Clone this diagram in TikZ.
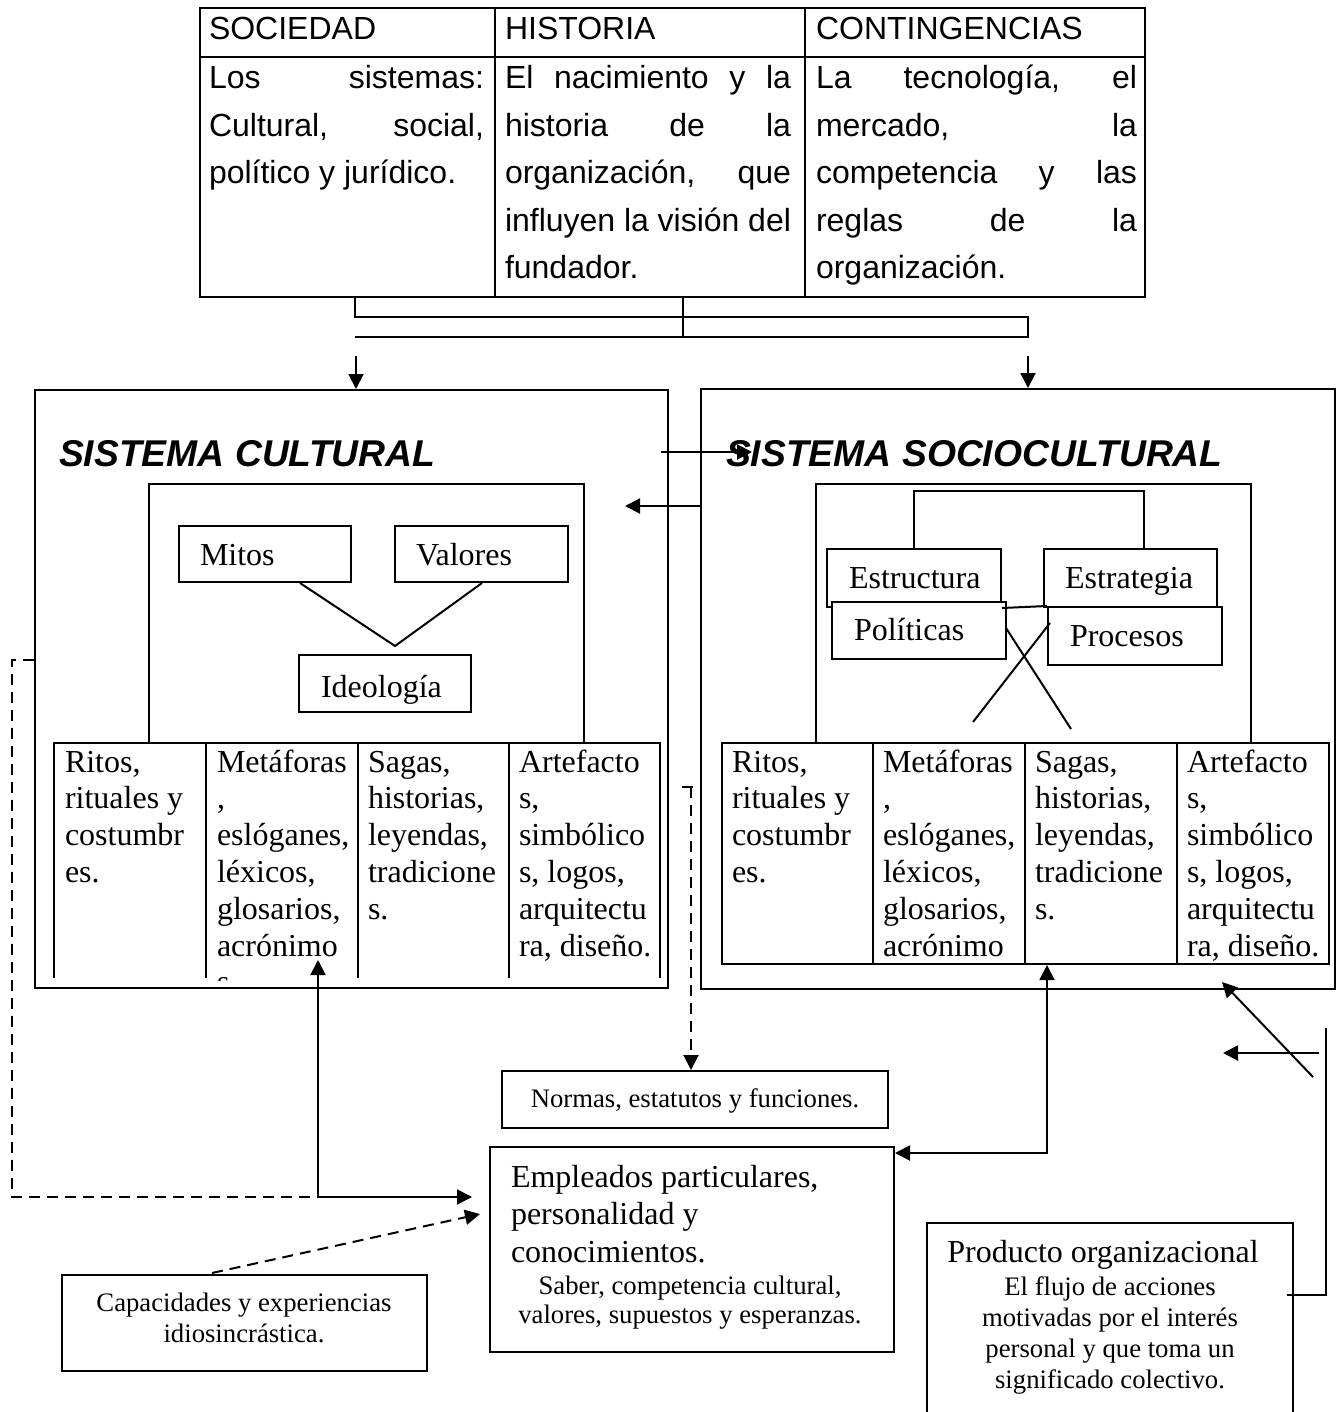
\documentclass[tikz,border=0pt]{standalone}
\usepackage{fontspec}
\setmainfont{Liberation Serif}
\newfontfamily\arialf{Liberation Sans}
\usetikzlibrary{arrows.meta}
\newcommand\fA{\arialf\fontsize{32}{36.8}\selectfont}
\newcommand\fT{\fontsize{32}{36.8}\selectfont}
\newcommand\fS{\fontsize{26.7}{31}\selectfont}
\newcommand\fH{\arialf\bfseries\itshape\fontsize{37.3}{43}\selectfont}
\newcommand\ctrline[1]{\hbox to 0pt{\hss #1\hss}}
\begin{document}
\begin{tikzpicture}[x=1pt,y=-1pt, line width=2pt,
  tip/.style={-{Triangle[length=15pt,width=15pt]}},
  dtip/.style={{Triangle[length=15pt,width=15pt]}-{Triangle[length=15pt,width=15pt]}},
  box/.style={draw, line width=2pt, inner sep=0pt, fill=white},
  txt/.style={inner sep=0pt, anchor=base west},
  ctxt/.style={inner sep=0pt, anchor=base},
  dsh/.style={dash pattern=on 11pt off 7pt},
]
\fill[white] (0,0) rectangle (1338,1412);
\useasboundingbox (0,0) rectangle (1338,1412);

% ---------- top table ----------
\node[box, minimum width=945pt, minimum height=289pt] (toptab) at (672.5,152.5) {};
\draw (200,57) -- (1145,57);
\draw (495,8) -- (495,297);
\draw (805,8) -- (805,297);
\node[txt] (h1) at (208,40) {\fA SOCIEDAD};
\node[txt] (h2) at (504,40) {\fA HISTORIA};
\node[txt] (h3) at (815,40) {\fA CONTINGENCIAS};
\node[txt] (b1) at (208,89) {\fA\vtop{\baselineskip=47.4pt
  \hbox to 275pt{Los\hfill sistemas:}
  \hbox to 275pt{Cultural,\hfill social,}
  \hbox{político y jurídico.}}};
\node[txt] (b2) at (504,89) {\fA\vtop{\baselineskip=47.4pt
  \hbox to 286pt{El\hfill nacimiento\hfill y\hfill la}
  \hbox to 286pt{historia\hfill de\hfill la}
  \hbox to 286pt{organización,\hfill que}
  \hbox to 286pt{influyen\hfill la\hfill visión\hfill del}
  \hbox{fundador.}}};
\node[txt] (b3) at (815,89) {\fA\vtop{\baselineskip=47.4pt
  \hbox to 321pt{La\hfill tecnología,\hfill el}
  \hbox to 321pt{mercado,\hfill la}
  \hbox to 321pt{competencia\hfill y\hfill las}
  \hbox to 321pt{reglas\hfill de\hfill la}
  \hbox{organización.}}};

% bracket under the table
\coordinate (brL) at (355,297);
\coordinate (brM) at (683,297);
\draw (brL) -- (355,317) -- (1028,317) -- (1028,337) -- (355,337);
\draw (brM) -- (683,337);

% ---------- system boxes ----------
\node[box, minimum width=633pt, minimum height=598pt] (leftsys) at (351.5,689) {};
\node[box, minimum width=634pt, minimum height=600pt] (rightsys) at (1018,689) {};
\coordinate (a1) at (356,356);
\coordinate (a2) at (1028,356);
\draw[tip] (a1) -- (a1 |- leftsys.north);
\draw[tip] (a2) -- (a2 |- rightsys.north);

\node[txt] (t1) at (58,466) {\fH SISTEMA CULTURAL};
\node[txt] (t2) at (725,466) {\fH SISTEMA SOCIOCULTURAL};
\coordinate (s1) at (661,452);
\coordinate (s2) at (752,452);
\draw[tip] (s1) -- (s2);
\coordinate (lt) at (625,506);
\draw[tip] (rightsys.west |- lt) -- (lt);

% ---------- left inner ----------
\draw (149,743) |- (584,484) -- (584,743);
\node[box, minimum width=172pt, minimum height=56pt] (mitos) at (265,554) {};
\node[box, minimum width=173pt, minimum height=56pt] (valores) at (481.5,554) {};
\node[box, minimum width=172pt, minimum height=57pt] (ideo) at (385,683.5) {};
\node[txt] (mt) at (199,565) {\fT Mitos};
\node[txt] (vt) at (415,565) {\fT Valores};
\node[txt] (it) at (320,697) {\fT Ideología};
\coordinate (vx) at (395,646);
\draw (mitos.south -| 300,0) -- (vx) -- (valores.south -| 482,0);

% left table (open at bottom)
\draw (54,978) |- (660,743) -- (660,978);
\draw (206,743) -- (206,978);
\draw (358,743) -- (358,978);
\draw (509,743) -- (509,978);
\node[txt] (lc1) at (64,772) {\fT\vtop{\baselineskip=36.8pt\hbox{Ritos,}\hbox{rituales y}\hbox{costumbr}\hbox{es.}}};
\begin{scope}
\clip (0,0) rectangle (1338,980);
\node[txt] (lc2) at (216,772) {\fT\vtop{\baselineskip=36.8pt\hbox{Metáforas}\hbox{,}\hbox{eslóganes,}\hbox{léxicos,}\hbox{glosarios,}\hbox{acrónimo}\hbox{s.}}};
\end{scope}
\node[txt] (lc3) at (367,772) {\fT\vtop{\baselineskip=36.8pt\hbox{Sagas,}\hbox{historias,}\hbox{leyendas,}\hbox{tradicione}\hbox{s.}}};
\node[txt] (lc4) at (518,772) {\fT\vtop{\baselineskip=36.8pt\hbox{Artefacto}\hbox{s,}\hbox{simbólico}\hbox{s, logos,}\hbox{arquitectu}\hbox{ra, diseño.}}};

% ---------- right inner ----------
\draw (816,743) |- (1251,484) -- (1251,743);
\node[box, minimum width=174pt, minimum height=58pt] (estru) at (914,578) {};
\node[box, minimum width=173pt, minimum height=58pt] (estra) at (1130.5,578) {};
\draw (estru.north -| 914,0) |- (1144,491) -- (estra.north -| 1144,0);
\node[box, minimum width=174pt, minimum height=57pt] (poli) at (919,630.5) {};
\node[box, minimum width=174pt, minimum height=58pt] (proc) at (1135,636) {};
\draw (estru.south east) -- (proc.north west);
\node[txt] (est1) at (848,588) {\fT Estructura};
\node[txt] (est2) at (1064,588) {\fT Estrategia};
\node[txt] (pol) at (853,640) {\fT Políticas};
\node[txt] (pro) at (1069,646) {\fT Procesos};
\coordinate (x1a) at (1006,628);
\coordinate (x1b) at (1071,729);
\coordinate (x2a) at (1050,623);
\coordinate (x2b) at (973,722);
\draw (x1a) -- (x1b);
\draw (x2a) -- (x2b);

% right table
\node[box, minimum width=607pt, minimum height=221pt] (rtab) at (1025.5,853.5) {};
\draw (873,743) -- (873,964);
\draw (1025,743) -- (1025,964);
\draw (1177,743) -- (1177,964);
\node[txt] (rc1) at (731,772) {\fT\vtop{\baselineskip=36.8pt\hbox{Ritos,}\hbox{rituales y}\hbox{costumbr}\hbox{es.}}};
\node[txt] (rc2) at (882,772) {\fT\vtop{\baselineskip=36.8pt\hbox{Metáforas}\hbox{,}\hbox{eslóganes,}\hbox{léxicos,}\hbox{glosarios,}\hbox{acrónimo}}};
\node[txt] (rc3) at (1034,772) {\fT\vtop{\baselineskip=36.8pt\hbox{Sagas,}\hbox{historias,}\hbox{leyendas,}\hbox{tradicione}\hbox{s.}}};
\node[txt] (rc4) at (1186,772) {\fT\vtop{\baselineskip=36.8pt\hbox{Artefacto}\hbox{s,}\hbox{simbólico}\hbox{s, logos,}\hbox{arquitectu}\hbox{ra, diseño.}}};

% ---------- bottom boxes ----------
\node[box, minimum width=386pt, minimum height=57pt] (normas) at (695,1099.5) {};
\node[ctxt] (nt) at (695,1107) {\fS Normas, estatutos y funciones.};

\node[box, minimum width=404pt, minimum height=205pt] (emp) at (692,1249.5) {};
\node[txt] (em1) at (510,1187) {\fT\vtop{\baselineskip=37.5pt\hbox{Empleados particulares,}\hbox{personalidad y}\hbox{conocimientos.}}};
\node[ctxt] (em2) at (690,1294) {\fS\vtop{\baselineskip=29.5pt\ctrline{Saber, competencia cultural,}\ctrline{valores, supuestos y esperanzas.}}};

\node[box, minimum width=365pt, minimum height=96pt] (cap) at (244.5,1323) {};
\node[ctxt] (capt) at (244,1311) {\fS\vtop{\baselineskip=31pt\ctrline{Capacidades y experiencias}\ctrline{idiosincrástica.}}};

\draw (927,1440) |- (1293,1223) -- (1293,1440);
\node[ctxt] (pt1) at (1103,1262) {\fT Producto organizacional};
\node[ctxt] (pt2) at (1110,1295) {\fS\vtop{\baselineskip=31pt\ctrline{El flujo de acciones}\ctrline{motivadas por el interés}\ctrline{personal y que toma un}\ctrline{significado colectivo.}}};

% ---------- connectors ----------
\coordinate (dl) at (12,660);
\coordinate (jn) at (318,1197);
\coordinate (acro) at (318,960);
\coordinate (empin) at (472,1197);
\draw[dsh] (leftsys.west |- dl) -- (dl) -- (12,1197) -- (jn);
\draw[dtip] (acro) |- (empin);

\coordinate (capo) at (212,1273);
\coordinate (capi) at (480,1214);
\draw[dsh, tip] (capo) -- (capi);

\coordinate (nt0) at (691,787);
\draw (682,787) -- (693,787);
\draw[dsh, tip] (nt0) -- (nt0 |- normas.north);

\coordinate (sg) at (1047,1153);
\draw[dtip] (sg |- rtab.south) -- (sg) -- (sg -| emp.east);

\coordinate (pr1) at (1287,1295);
\coordinate (pr2) at (1326,1295);
\coordinate (pr3) at (1326,1028);
\draw (pr1) -- (pr2) -- (pr3);
\coordinate (ha) at (1319,1053);
\coordinate (hb) at (1223,1053);
\draw[tip] (ha) -- (hb);
\coordinate (da) at (1313,1077);
\coordinate (db) at (1222,982);
\draw[tip] (da) -- (db);
\end{tikzpicture}
\end{document}
